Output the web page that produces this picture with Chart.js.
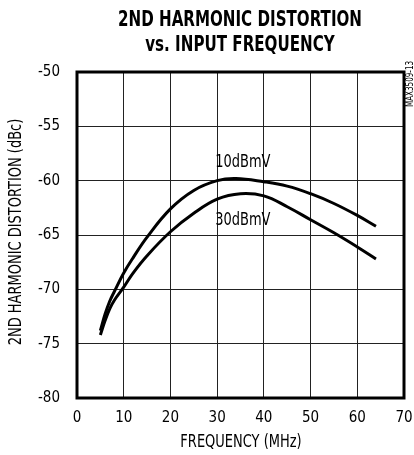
<!DOCTYPE html>
<html>
<head>
<meta charset="utf-8">
<script src="https://cdn.jsdelivr.net/npm/chart.js@4"></script>
<style>
  html, body { margin: 0; padding: 0; background: #fff; }
  #wrap { width: 414px; height: 455px; }
</style>
</head>
<body>
<div id="wrap"><canvas id="c" width="414" height="455"></canvas></div>
<script>
// values
var freqs10 = [5, 6, 7, 8, 10, 12, 15, 20, 25, 30, 34, 40, 45, 50, 55, 60, 64];
var dist10 = [-73.8, -72.3, -71.1, -70.2, -68.5, -67.1, -65.2, -62.6, -60.9, -60.0, -59.8, -60.1, -60.5, -61.2, -62.1, -63.2, -64.2];
var freqs30 = [5, 6, 7, 8, 10, 12, 15, 20, 25, 30, 35, 40, 45, 50, 55, 60, 64];
var dist30 = [-74.2, -72.9, -71.8, -71.0, -69.8, -68.5, -66.9, -64.7, -63.0, -61.7, -61.2, -61.4, -62.4, -63.6, -64.8, -66.1, -67.2];
var seriesNames = ['10dBmV', '30dBmV'];
var xTicks = [0, 10, 20, 30, 40, 50, 60, 70];
var yTicks = [-80, -75, -70, -65, -60, -55, -50];

var FONT = '"DejaVu Sans Condensed", "Liberation Sans", sans-serif';

function pts(xs, ys) {
    return xs.map(function (f, i) { return { x: f, y: ys[i] }; });
}

// narrow text: draw with a horizontal squeeze
function narrowText(ctx, txt, x, y, size, bold, sx, rot) {
    ctx.save();
    ctx.translate(x, y);
    if (rot) ctx.rotate(rot);
    ctx.scale(sx, 1);
    ctx.font = (bold ? 'bold ' : '') + size + 'px ' + FONT;
    ctx.fillText(txt, 0, 0);
    ctx.restore();
}

var textPlugin = {
    id: 'texts',
    afterDraw: function (chart) {
        var ctx = chart.ctx, a = chart.chartArea;
        var xs = chart.scales.x, ys = chart.scales.y;
        ctx.save();
        // frame
        ctx.strokeStyle = '#000';
        ctx.lineWidth = 3;
        ctx.strokeRect(a.left, a.top, a.right - a.left, a.bottom - a.top);

        ctx.fillStyle = '#000';
        ctx.textAlign = 'center';
        ctx.textBaseline = 'middle';
        narrowText(ctx, '2ND HARMONIC DISTORTION', 240, 21, 21, true, 0.8);
        narrowText(ctx, 'vs. INPUT FREQUENCY', 240, 46, 21, true, 0.8);

        narrowText(ctx, 'FREQUENCY (MHz)', 241, 443, 17, false, 0.85);
        narrowText(ctx, seriesNames[0], xs.getPixelForValue(35.5), ys.getPixelForValue(-58.3), 17, false, 0.85);
        narrowText(ctx, seriesNames[1], xs.getPixelForValue(35.5), ys.getPixelForValue(-63.7), 17, false, 0.85);
        narrowText(ctx, '2ND HARMONIC DISTORTION (dBc)', 17, 232, 17, false, 0.85, -Math.PI / 2);
        narrowText(ctx, 'MAX3509-13', 410, 84, 10, false, 0.8, -Math.PI / 2);
        ctx.restore();
    }
};

var ctx = document.getElementById('c').getContext('2d');
var chart = new Chart(ctx, {
    type: 'scatter',
    data: {
        datasets: [{
            label: seriesNames[0],
            data: pts(freqs10, dist10),
            showLine: true,
            borderColor: '#000',
            borderWidth: 3,
            pointRadius: 0,
            tension: 0.4
        }, {
            label: seriesNames[1],
            data: pts(freqs30, dist30),
            showLine: true,
            borderColor: '#000',
            borderWidth: 3,
            pointRadius: 0,
            tension: 0.4
        }]
    },
    options: {
        responsive: false,
        animation: false,
        layout: { padding: { left: 0, right: 10, top: 72, bottom: 0 } },
        plugins: {
            legend: { display: false },
            tooltip: { enabled: false }
        },
        scales: {
            x: {
                type: 'linear',
                min: 0,
                max: 70,
                afterBuildTicks: function (s) { s.ticks = xTicks.map(function (v) { return { value: v }; }); },
                afterFit: function (s) { s.height = 57; s.paddingLeft = 0; s.paddingRight = 0; },
                ticks: { color: '#000', padding: 11, font: { family: FONT, size: 15 }, maxRotation: 0 },
                grid: { color: '#222', lineWidth: 1, drawTicks: false },
                border: { display: false }
            },
            y: {
                min: -80,
                max: -50,
                afterBuildTicks: function (s) { s.ticks = yTicks.map(function (v) { return { value: v }; }); },
                afterFit: function (s) { s.width = 77; s.paddingTop = 0; s.paddingBottom = 0; },
                ticks: { color: '#000', padding: 17, font: { family: FONT, size: 15 } },
                grid: { color: '#222', lineWidth: 1, drawTicks: false },
                border: { display: false }
            }
        }
    },
    plugins: [textPlugin]
});
</script>
</body>
</html>
